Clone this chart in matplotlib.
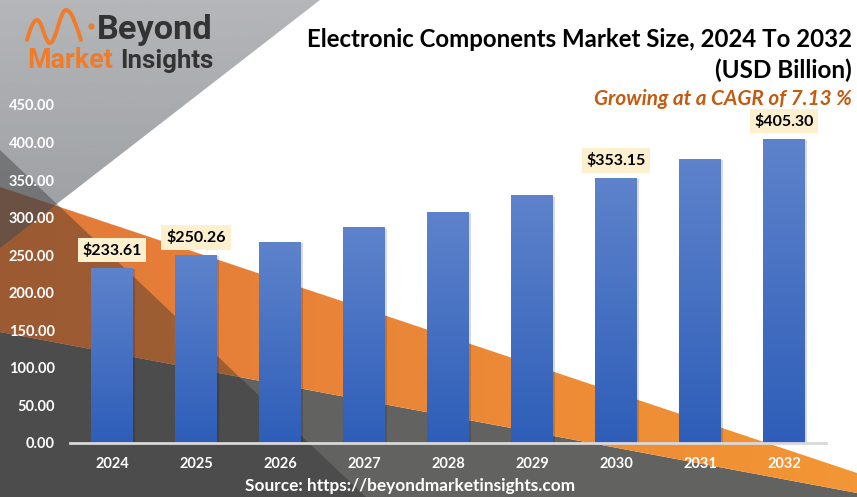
import numpy as np
import matplotlib
matplotlib.use("Agg")
import matplotlib.pyplot as plt
from matplotlib.patches import Polygon
from matplotlib.path import Path
from matplotlib.patches import PathPatch
import matplotlib.patheffects as pe
from matplotlib.colors import LinearSegmentedColormap

# ---------------- data ----------------
years = ["2024", "2025", "2026", "2027", "2028", "2029", "2030", "2031", "2032"]
values = [233.61, 250.26, 268.1, 287.3, 307.8, 329.7, 353.15, 378.3, 405.30]
labeled_years = ["2024", "2025", "2030", "2032"]
yticks = [0, 50, 100, 150, 200, 250, 300, 350, 400, 450]

title1 = "Electronic Components Market Size, 2024 To 2032"
title2 = "(USD Billion)"
cagr_text = "Growing at a CAGR of 7.13 %"
source_text = "Source: https://beyondmarketinsights.com"

W, H = 857, 497
fig = plt.figure(figsize=(W / 100, H / 100), dpi=100)
fig.patch.set_facecolor("white")

# ---------------- background decoration (pixel coords) ----------------
bg = fig.add_axes([0, 0, 1, 1], zorder=0)
bg.set_xlim(0, W)
bg.set_ylim(H, 0)
bg.axis("off")

# dark bottom region
bg.add_patch(Polygon([(0, 332), (W, 493), (W, H), (0, H)], closed=True,
                     fc="#626261", ec="none", zorder=1))

# orange band with horizontal gradient
orange_poly = Polygon([(0, 187), (W, 473), (W, 493), (0, 332)], closed=True,
                      fc="none", ec="none", zorder=2)
bg.add_patch(orange_poly)
ocmap = LinearSegmentedColormap.from_list("o", ["#e2783a", "#f39634"])
grad = np.linspace(0, 1, 256).reshape(1, -1)
im = bg.imshow(grad, cmap=ocmap, extent=(0, W, H, 0), aspect="auto", zorder=2)
im.set_clip_path(orange_poly)

# semi transparent gray triangle top-left (vertical alpha ramp)
gray_poly = Polygon([(0, 0), (320, 0), (0, 248)], closed=True, fc="none",
                    ec="none", zorder=3)
bg.add_patch(gray_poly)
rgba = np.zeros((256, 1, 4))
rgba[..., 0] = 0x5c / 255
rgba[..., 1] = 0x61 / 255
rgba[..., 2] = 0x66 / 255
rgba[:, 0, 3] = np.linspace(0.46, 0.62, 256)
im2 = bg.imshow(rgba, extent=(0, 320, 248, 0), aspect="auto", zorder=3)
im2.set_clip_path(gray_poly)

# dark overlay triangle bottom-left
bg.add_patch(Polygon([(0, 149.5), (0, H), (366, H)], closed=True,
                     fc="#2a2a2a", alpha=0.38, ec="none", zorder=4))
bg.set_xlim(0, W)
bg.set_ylim(H, 0)

# ---------------- logo ----------------
verts = [(27, 40), (30, 30), (33, 20), (37, 20),
         (42, 20), (45, 43), (50, 43),
         (56, 43), (60, 10), (66, 10),
         (72, 10), (77, 28), (81, 40)]
codes = [Path.MOVETO] + [Path.CURVE4] * 12
bg.add_patch(PathPatch(Path(verts, codes), fc="none", ec="#f07c2a", lw=2.8,
                       capstyle="round", zorder=6))
bg.plot([91], [26], marker="o", ms=3.5, color="#f07c2a", zorder=6)

logo_font = "Roboto"
t_beyond = bg.text(97, 39, "Beyond", fontfamily=logo_font, fontweight="bold",
                   fontsize=24, color="#333333", ha="left", va="baseline", zorder=6)
t_market = bg.text(27, 68, "Market", fontfamily=logo_font, fontweight="bold",
                   fontsize=20, color="#f07c2a", ha="left", va="baseline", zorder=6)
t_ins = bg.text(120, 68, "Insights", fontfamily=logo_font, fontweight="bold",
                fontsize=20, color="#333333", ha="left", va="baseline", zorder=6)

# ---------------- titles ----------------
tf = "Lato"
t1 = bg.text(852, 47, title1, fontfamily=tf, fontweight="bold", fontsize=16,
             color="black", ha="right", va="baseline", zorder=6)
t2 = bg.text(852, 78, title2, fontfamily=tf, fontweight="bold", fontsize=16,
             color="black", ha="right", va="baseline", zorder=6)
t3 = bg.text(852, 105, cagr_text, fontfamily=tf, fontweight="bold",
             fontstyle="italic", fontsize=12, color="#c55a11", ha="right",
             va="baseline", zorder=6)
t4 = bg.text(245, 491, source_text, fontfamily=tf, fontweight="bold",
             fontsize=11, color="white", ha="left", va="baseline", zorder=6)

renderer = fig.canvas.get_renderer()
def fit(t, target):
    bb = t.get_window_extent(renderer)
    t.set_fontsize(t.get_fontsize() * target / bb.width)

fit(t_beyond, 116)
fit(t_market, 85)
fit(t_ins, 93)
fit(t1, 547)
fit(t2, 137)
fit(t3, 257)
fit(t4, 329)

# ---------------- main chart ----------------
ax = fig.add_axes([70 / W, (H - 443) / H, 756 / W, (443 - 105) / H], zorder=5)
ax.patch.set_alpha(0)
x = np.arange(len(years))
bars = ax.bar(x, values, width=0.5, color="#4472c4", zorder=3,
              path_effects=[pe.SimplePatchShadow(offset=(1.5, -1), alpha=0.15,
                                                 shadow_rgbFace="#000000"),
                            pe.Normal()])
bcmap = LinearSegmentedColormap.from_list("b", ["#2e5eb9", "#5e83cb"])
vg = np.linspace(0, 1, 256).reshape(-1, 1)
for b in bars:
    x0, w, h = b.get_x(), b.get_width(), b.get_height()
    gim = ax.imshow(vg, cmap=bcmap, origin="lower", extent=(x0, x0 + w, 0, h),
                    aspect="auto", zorder=4)
    gim.set_clip_path(b)

ax.set_xlim(-0.5, len(years) - 0.5)
ax.set_ylim(0, 450)
ax.set_yticks(yticks)
ax.set_yticklabels([f"{v:.2f}" for v in yticks])
ax.set_xticks(x)
ax.set_xticklabels(years)
for s in ["top", "right", "left"]:
    ax.spines[s].set_visible(False)
ax.spines["bottom"].set_color("#d9d9d9")
ax.spines["bottom"].set_linewidth(2)
ax.spines["bottom"].set_zorder(6)
ax.tick_params(axis="both", length=0, colors="white")
ax.tick_params(axis="y", pad=11)
ax.tick_params(axis="x", pad=10)
for lab in ax.get_yticklabels() + ax.get_xticklabels():
    lab.set_fontfamily(tf)
    lab.set_fontweight("bold")
    lab.set_fontsize(10.5)
    lab.set_color("white")

for yr, v, xi in zip(years, values, x):
    if yr in labeled_years:
        ax.annotate(f"${v:.2f}", xy=(xi, v), xytext=(0, 12.6),
                    textcoords="offset points", ha="center", va="center",
                    fontfamily=tf, fontweight="bold", fontsize=11.5,
                    color="black", zorder=7,
                    bbox=dict(boxstyle="square,pad=0.3", fc="#fdf0cf", ec="none"))

fig.savefig("out.png", dpi=100, facecolor="white")
